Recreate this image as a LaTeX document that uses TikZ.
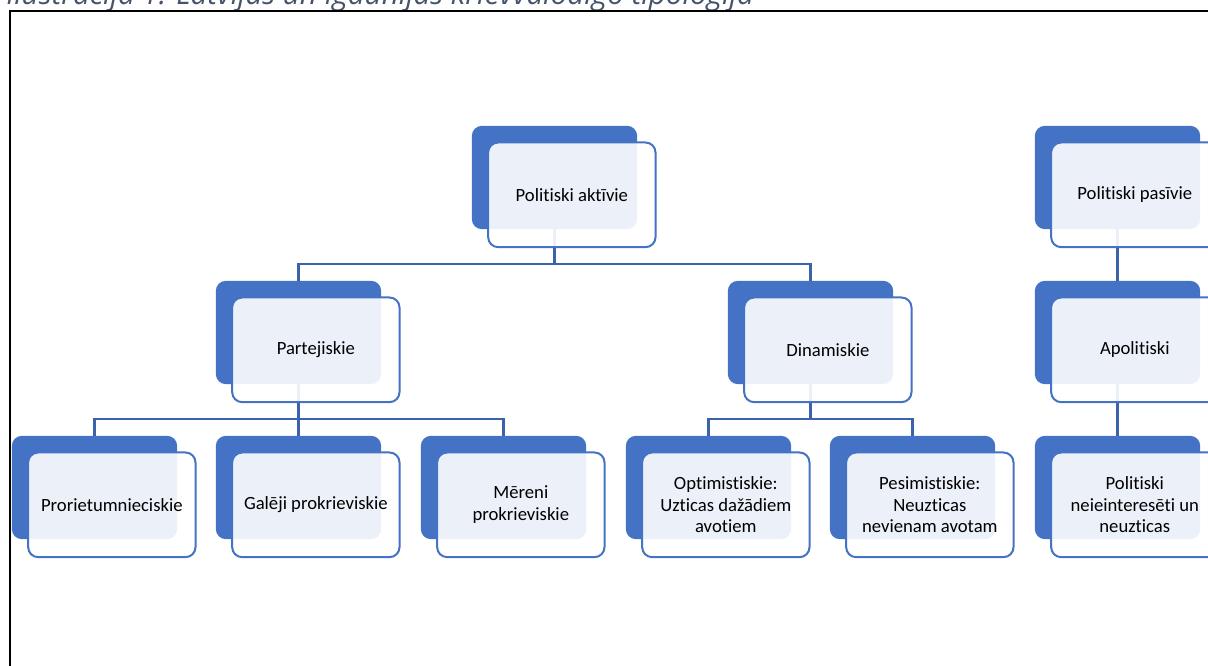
\documentclass[tikz,border=0pt]{standalone}
\usepackage{fontspec}
\setmainfont{Carlito}[Ligatures={NoCommon,NoContextual}]
\newfontfamily\capfont{Open Sans}
\usetikzlibrary{positioning,backgrounds,calc}
\definecolor{accBlue}{HTML}{4472C4}
\definecolor{conBlue}{HTML}{3B63AB}
\definecolor{capColor}{HTML}{44546A}
\tikzset{
	back/.style={fill=accBlue, rounded corners=7.5pt, minimum width=124pt,
		minimum height=77.5pt, outer sep=0},
	front/.style={draw=accBlue, line width=1.5pt, fill=white, fill opacity=0.9,
		text opacity=1, rounded corners=7.5pt, minimum width=125.5pt,
		minimum height=78.5pt, align=center, outer sep=0,
		font=\fontsize{14}{16.3}\selectfont, xshift=13pt, yshift=-13pt},
	conn/.style={draw=conBlue, line width=1.6pt}
}

\begin{document}
\begin{tikzpicture}[x=0.75pt, y=-0.75pt]
	\useasboundingbox (0,0) rectangle (1208,666);
	\clip (0,0) rectangle (1208,666);
	\node[anchor=base west, inner sep=0, text=capColor,
		font=\capfont\itshape\fontsize{22.2}{24}\selectfont] (cap) at (6,5)
		{Ilustrācija 1: Latvijas un Igaunijas krievvalodīgo tipoloģija};
	\draw[black, line width=1.2pt] (10,700) -- (10,11) -- (1250,11);
	
	% level 1
	\node[back] (akt) at (554.5, 177.5) {};
	\node[front] (akt-f) at (akt) {Politiski aktīvie};
	\node[back] (pas) at (1117.5, 177.5) {};
	\node[front] (pas-f) at (pas) {Politiski pasīvie};
	
	% level 2
	\node[back] (par) at (298.5, 332.5) {};
	\node[front] (par-f) at (par) {Partejiskie};
	\node[back] (din) at (810.5, 332.5) {};
	\node[front] (din-f) at (din) {Dinamiskie};
	\node[back] (apo) at (1117.5, 332.5) {};
	\node[front] (apo-f) at (apo) {Apolitiski};
	
	% level 3
	\node[back] (pro) at (94.5, 487.5) {};
	\node[front] (pro-f) at (pro) {Prorietumnieciskie};
	\node[back] (gal) at (298.5, 487.5) {};
	\node[front] (gal-f) at (gal) {Galēji prokrieviskie};
	\node[back] (mer) at (503.5, 487.5) {};
	\node[front] (mer-f) at (mer) {Mēreni\\prokrieviskie};
	\node[back] (opt) at (708.5, 487.5) {};
	\node[front] (opt-f) at (opt) {Optimistiskie:\\Uzticas dažādiem\\avotiem};
	\node[back] (pes) at (912.5, 487.5) {};
	\node[front] (pes-f) at (pes) {Pesimistiskie:\\Neuzticas\\nevienam avotam};
	\node[back] (nei) at (1117.5, 487.5) {};
	\node[front] (nei-f) at (nei) {Politiski\\neieinteresēti un\\neuzticas};
	
	\path ($(akt-f.south)!0.5!(par.north)$) coordinate (bus1);
	\path ($(par-f.south)!0.5!(pro.north)$) coordinate (bus2);
	\path ($(din-f.south)!0.5!(opt.north)$) coordinate (bus3);
	
	\begin{scope}[on background layer]
		\draw[conn] (akt.south) -- (akt.south |- bus1) -| (par.north);
		\draw[conn] (akt.south |- bus1) -| (din.north);
		\draw[conn] (par.south) -- (par.south |- bus2) -| (pro.north);
		\draw[conn] (par.south |- bus2) -| (mer.north);
		\draw[conn] (par.south) -- (gal.north);
		\draw[conn] (din.south) -- (din.south |- bus3) -| (opt.north);
		\draw[conn] (din.south |- bus3) -| (pes.north);
		\draw[conn] (pas.south) -- (apo.north);
		\draw[conn] (apo.south) -- (nei.north);
	\end{scope}
\end{tikzpicture}
\end{document}
